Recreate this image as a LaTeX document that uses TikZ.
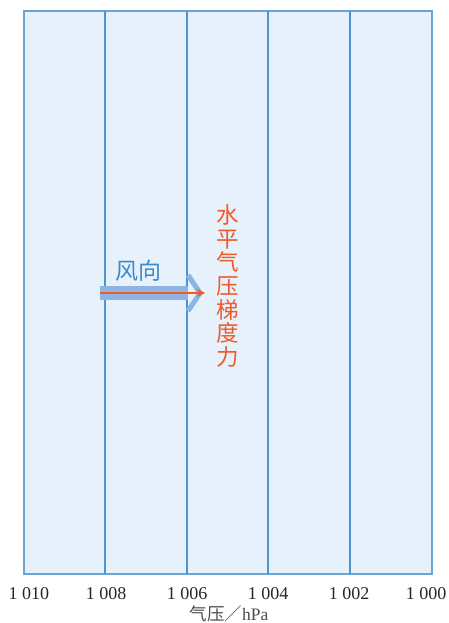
\documentclass[tikz,border=0pt]{standalone}
\usepackage{fontspec}
\setmainfont{Liberation Serif}
\newfontfamily\cjk{Noto Sans CJK SC}
\usetikzlibrary{arrows.meta}
\definecolor{panel}{HTML}{E6F1FB}
\definecolor{isobar}{HTML}{4F95CD}
\definecolor{windblue}{HTML}{8DB4E2}
\definecolor{forcered}{HTML}{F05A28}
\definecolor{windtext}{HTML}{3D8AC8}
\tikzset{
  pvalue/.style={text=black!85,font=\fontsize{18}{20}\selectfont},
  isoline/.style={isobar,line width=1.5pt}
}

\begin{document}
\begin{tikzpicture}[x=1pt,y=-1pt]
			\useasboundingbox (0,0) rectangle (449,623);
			% panel and isobars
			\filldraw[fill=panel,draw=isobar!85,line width=1.2pt] (24,11) rectangle (432,574);
			\foreach \x in {105,187,268,350}
				\draw[isoline] (\x,11) -- (\x,574);
			% pressure values
			\foreach \x/\v in {29/010,106/008,187/006,268/004,349/002,426/000}
				\node[pvalue] (p\v) at (\x,594) {1 \v};
			\node[text=black!70,font=\fontsize{17.5}{20}\selectfont] (unit) at (229,614) {{\cjk 气压／}hPa};
			% wind direction
			\coordinate (tail) at (100,293);
			\coordinate (tip) at (205,293);
			\fill[windblue] (100,286) rectangle (188,300);
			\draw[windblue,line width=5pt] (188,275) -- (200,293) -- (188,311);
			\draw[forcered,line width=1.5pt,-{Stealth[length=8pt,width=8pt]}] (tail) -- (tip);
			\node[text=windtext,font=\cjk\fontsize{23}{24}\selectfont] (wind) at (138,271) {风向};
			% gradient force
			\node[text=forcered,align=center,font=\cjk\fontsize{22.5}{23.7}\selectfont] (force) at (228,286)
				{水\\平\\气\\压\\梯\\度\\力};
		\end{tikzpicture}
\end{document}
